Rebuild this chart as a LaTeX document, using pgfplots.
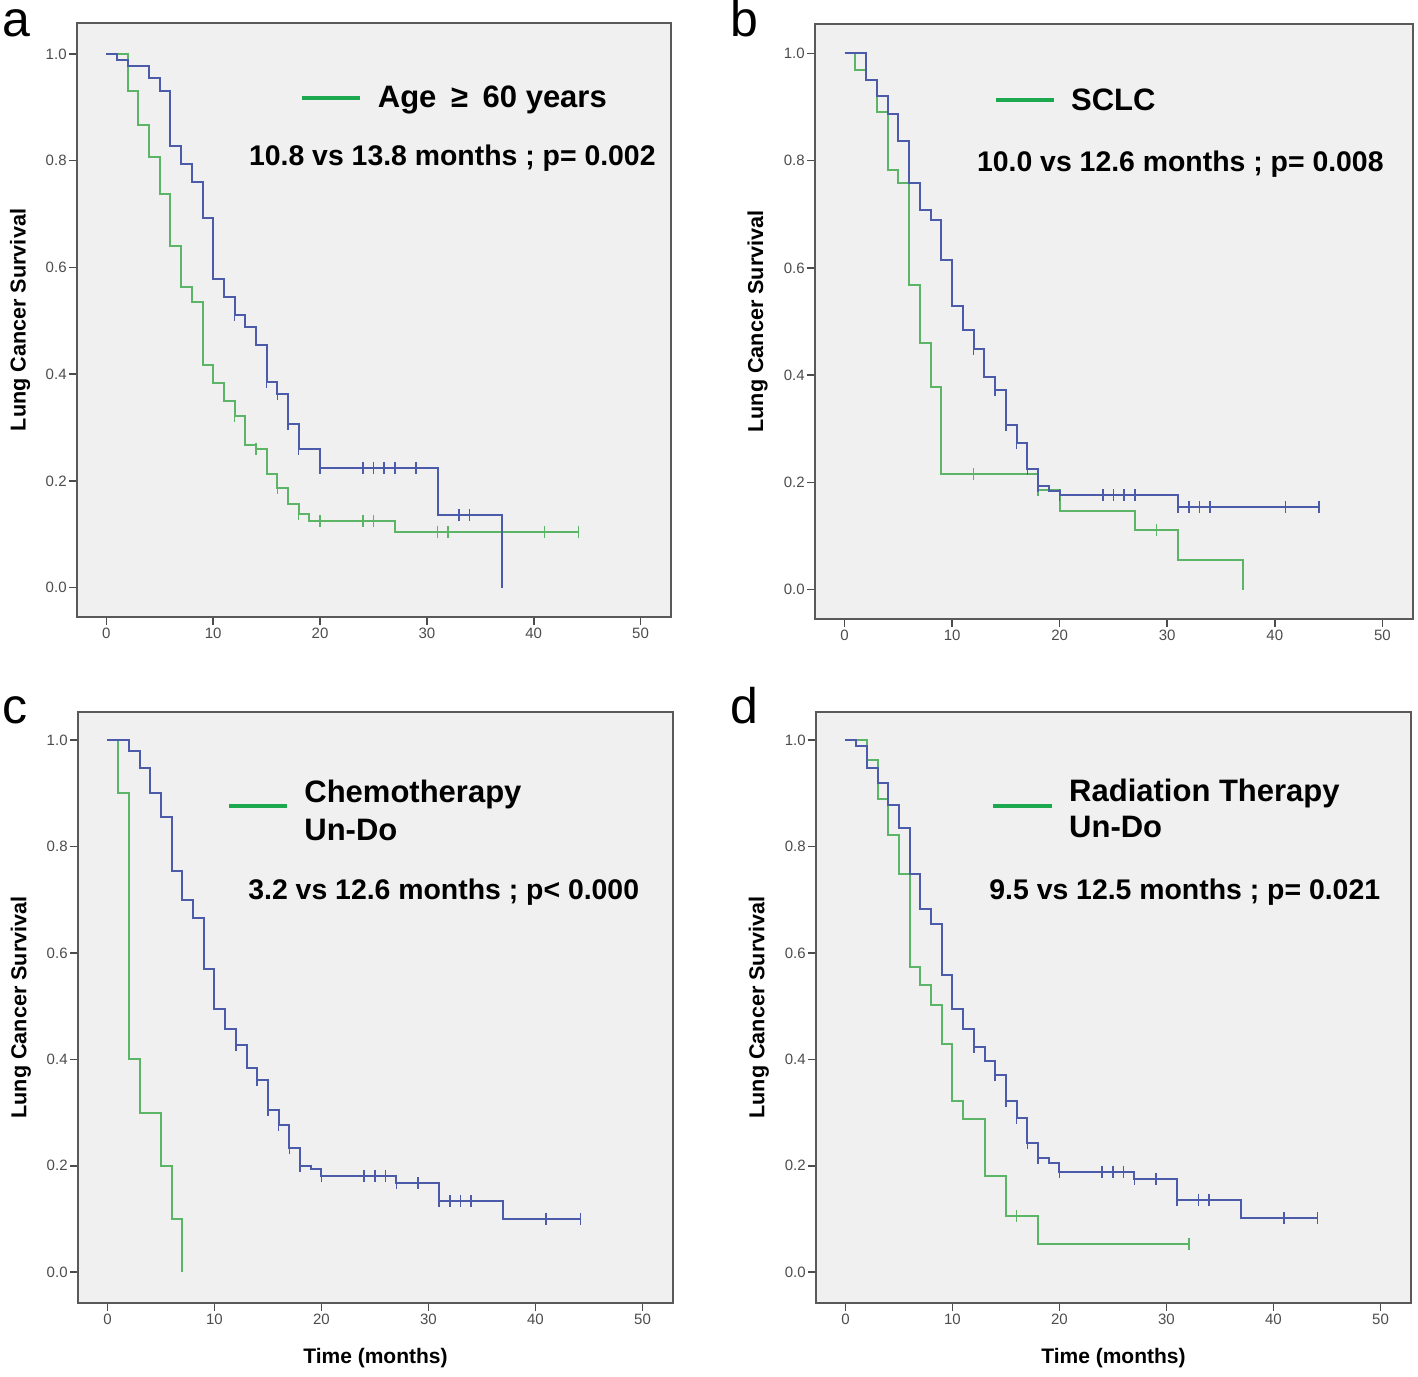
\documentclass[border=0pt]{standalone}
\usepackage{fontspec}
\setmainfont{Liberation Sans}
\usepackage{pgfplots}
\pgfplotsset{compat=1.18}
\definecolor{kmblue}{RGB}{76,90,170}
\definecolor{kmgreen}{RGB}{92,180,102}
\definecolor{leggreen}{RGB}{28,168,78}
\definecolor{panelbg}{RGB}{240,240,240}
\pgfplotsset{
 kmaxis/.style={
  scale only axis,
  xmin=-2.75, xmax=52.85,
  axis background/.style={fill=panelbg},
  axis line style={draw=black!65, line width=1.1pt},
  xtick={0,10,20,30,40,50}, ytick={0,0.2,0.4,0.6,0.8,1.0},
  tick align=outside, tick pos=left, major tick length=4pt,
  tick style={black!70, line width=0.8pt},
  ticklabel style={font=\fontsize{7.5}{9}\selectfont, text=black!70},
  /pgf/number format/assume math mode=true,
  yticklabel style={/pgf/number format/fixed, /pgf/number format/fixed zerofill, /pgf/number format/precision=1, inner sep=1pt},
  xticklabel style={inner sep=1.5pt},
  ylabel={Lung Cancer Survival},
  ylabel style={at={(axis description cs:-0.096,0.5)}, anchor=center, font=\bfseries\fontsize{10.8}{12}\selectfont},
  xlabel style={at={(axis description cs:0.5,-0.093)}, anchor=center, font=\bfseries\fontsize{10.5}{12}\selectfont},
  clip=false,
 },
 kmline/.style={const plot, line width=1pt, mark=none},
 censor/.style={only marks, mark=|, mark size=3pt, mark options={line width=0.8pt}},
}
\begin{document}
\begin{tikzpicture}
\useasboundingbox (0,0) rectangle (709pt,688pt);

% ---------------- a ----------------
\begin{axis}[kmaxis, at={(38.5pt,379.5pt)}, anchor=south west, width=297pt, height=297pt, ymin=-0.055, ymax=1.058]
\addplot[kmline, kmgreen] coordinates {(0,1) (2,0.93) (3,0.866) (4,0.807) (5,0.737) (6,0.64) (7,0.563) (8,0.535) (9,0.417) (10,0.383) (11,0.349) (12,0.322) (13,0.268) (14,0.26) (15,0.213) (16,0.186) (17,0.156) (18,0.138) (19,0.125) (27,0.105) (44.2,0.105)};
\addplot[kmline, kmblue] coordinates {(0,1) (1,0.988) (2,0.978) (4,0.955) (5,0.930) (6,0.827) (7,0.793) (8,0.760) (9,0.693) (10,0.579) (11,0.545) (12,0.511) (13,0.488) (14,0.454) (15,0.386) (16,0.363) (17,0.307) (18,0.26) (20,0.225) (31,0.136) (37,0.0)};
\addplot[censor, kmgreen] coordinates {(12,0.322) (14,0.26) (16,0.186) (18,0.138) (20,0.125) (24,0.125) (25,0.125) (31,0.105) (32,0.105) (41,0.105) (44.2,0.105)};
\addplot[censor, kmblue] coordinates {(12,0.511) (15,0.386) (16,0.363) (17,0.307) (18,0.26) (20,0.225) (24,0.225) (25,0.225) (26,0.225) (27,0.225) (29,0.225) (33,0.136) (34,0.136)};
\end{axis}

% ---------------- b ----------------
\begin{axis}[kmaxis, at={(407.5pt,378.5pt)}, anchor=south west, width=299pt, height=297.5pt, ymin=-0.055, ymax=1.055]
\addplot[kmline, kmgreen] coordinates {(0,1) (1,0.97) (2,0.95) (3,0.891) (4,0.783) (5,0.758) (6,0.568) (7,0.459) (8,0.378) (9,0.215) (18,0.186) (20,0.147) (27,0.111) (31,0.055) (37,0.0)};
\addplot[kmline, kmblue] coordinates {(0,1) (2,0.95) (3,0.92) (4,0.888) (5,0.836) (6,0.758) (7,0.708) (8,0.69) (9,0.615) (10,0.529) (11,0.485) (12,0.449) (13,0.397) (14,0.372) (15,0.307) (16,0.274) (17,0.224) (18,0.194) (19,0.184) (20,0.176) (31,0.153) (44.1,0.153)};
\addplot[censor, kmgreen] coordinates {(12,0.215) (18,0.186) (29,0.111)};
\addplot[censor, kmblue] coordinates {(12,0.449) (14,0.372) (15,0.307) (16,0.274) (17,0.224) (18,0.194) (20,0.176) (24,0.176) (25,0.176) (26,0.176) (27,0.176) (31,0.153) (32,0.153) (33,0.153) (34,0.153) (41,0.153) (44.1,0.153)};
\end{axis}

% ---------------- c ----------------
\begin{axis}[kmaxis, at={(39pt,36.5pt)}, anchor=south west, width=297.5pt, height=295.5pt, ymin=-0.058, ymax=1.053, xlabel={Time (months)}]
\addplot[kmline, kmgreen] coordinates {(0,1) (1,0.9) (2,0.4) (3,0.3) (5,0.2) (6,0.1) (7,0)};
\addplot[kmline, kmblue] coordinates {(0,1) (2,0.98) (3,0.947) (4,0.9) (5,0.855) (6,0.754) (7,0.699) (8,0.666) (9,0.569) (10,0.495) (11,0.458) (12,0.427) (13,0.383) (14,0.361) (15,0.305) (16,0.277) (17,0.234) (18,0.2) (19,0.194) (20,0.18) (27,0.167) (31,0.133) (37,0.1) (44.2,0.1)};
\addplot[censor, kmblue] coordinates {(12,0.427) (14,0.361) (15,0.305) (16,0.277) (17,0.234) (18,0.2) (20,0.18) (24,0.18) (25,0.18) (26,0.18) (27,0.167) (29,0.167) (31,0.133) (32,0.133) (33,0.133) (34,0.133) (41,0.1) (44.2,0.1)};
\end{axis}

% ---------------- d ----------------
\begin{axis}[kmaxis, at={(408pt,36.5pt)}, anchor=south west, width=297.5pt, height=295.5pt, ymin=-0.058, ymax=1.053, xlabel={Time (months)}]
\addplot[kmline, kmgreen] coordinates {(0,1) (2,0.962) (3,0.89) (4,0.821) (5,0.749) (6,0.574) (7,0.539) (8,0.502) (9,0.429) (10,0.322) (11,0.287) (13,0.18) (15,0.106) (18,0.053) (32.1,0.053)};
\addplot[kmline, kmblue] coordinates {(0,1) (1,0.99) (2,0.947) (3,0.92) (4,0.878) (5,0.834) (6,0.749) (7,0.683) (8,0.655) (9,0.558) (10,0.495) (11,0.458) (12,0.424) (13,0.396) (14,0.371) (15,0.322) (16,0.289) (17,0.242) (18,0.214) (19,0.205) (20,0.189) (27,0.175) (31,0.136) (37,0.101) (44.1,0.101)};
\addplot[censor, kmgreen] coordinates {(16,0.106) (32.1,0.053)};
\addplot[censor, kmblue] coordinates {(12,0.424) (14,0.371) (15,0.322) (16,0.289) (17,0.242) (18,0.214) (20,0.189) (24,0.189) (25,0.189) (26,0.189) (27,0.175) (29,0.175) (31,0.136) (33,0.136) (34,0.136) (41,0.101) (44.1,0.101)};
\end{axis}

% ---------------- annotations ----------------
\tikzset{paneltag/.style={font=\fontsize{25}{30}\selectfont, inner sep=0pt, anchor=base west},
 legtxt/.style={font=\bfseries\fontsize{15.5}{18}\selectfont, inner sep=0pt, anchor=base west},
 stattxt/.style={font=\bfseries\fontsize{14.2}{17}\selectfont, inner sep=0pt, anchor=base west}}
\node[paneltag] at (1pt,669.5pt) {a};
\node[paneltag] at (365pt,669.5pt) {b};
\node[paneltag] at (1pt,326pt) {c};
\node[paneltag] at (365pt,326pt) {d};

\draw[leggreen, line width=2pt] (151pt,639pt) -- (180pt,639pt);
\node[legtxt] at (188.75pt,634pt) {Age\hspace{3pt} ≥\hspace{3pt} 60 years};
\node[stattxt] at (124.35pt,605pt) {10.8 vs 13.8 months ; p= 0.002};

\draw[leggreen, line width=2pt] (498pt,638pt) -- (527pt,638pt);
\node[legtxt] at (535.35pt,632.5pt) {SCLC};
\node[stattxt] at (488.35pt,602pt) {10.0 vs 12.6 months ; p= 0.008};

\draw[leggreen, line width=2pt] (114.5pt,285pt) -- (143.3pt,285pt);
\node[legtxt] at (152pt,286.5pt) {Chemotherapy};
\node[legtxt] at (152pt,267.5pt) {Un-Do};
\node[stattxt] at (124pt,238pt) {3.2 vs 12.6 months ; p< 0.000};

\draw[leggreen, line width=2pt] (496.5pt,285pt) -- (526pt,285pt);
\node[legtxt] at (534.4pt,287pt) {Radiation Therapy};
\node[legtxt] at (534.4pt,269pt) {Un-Do};
\node[stattxt] at (494.5pt,238pt) {9.5 vs 12.5 months ; p= 0.021};
\end{tikzpicture}
\end{document}
